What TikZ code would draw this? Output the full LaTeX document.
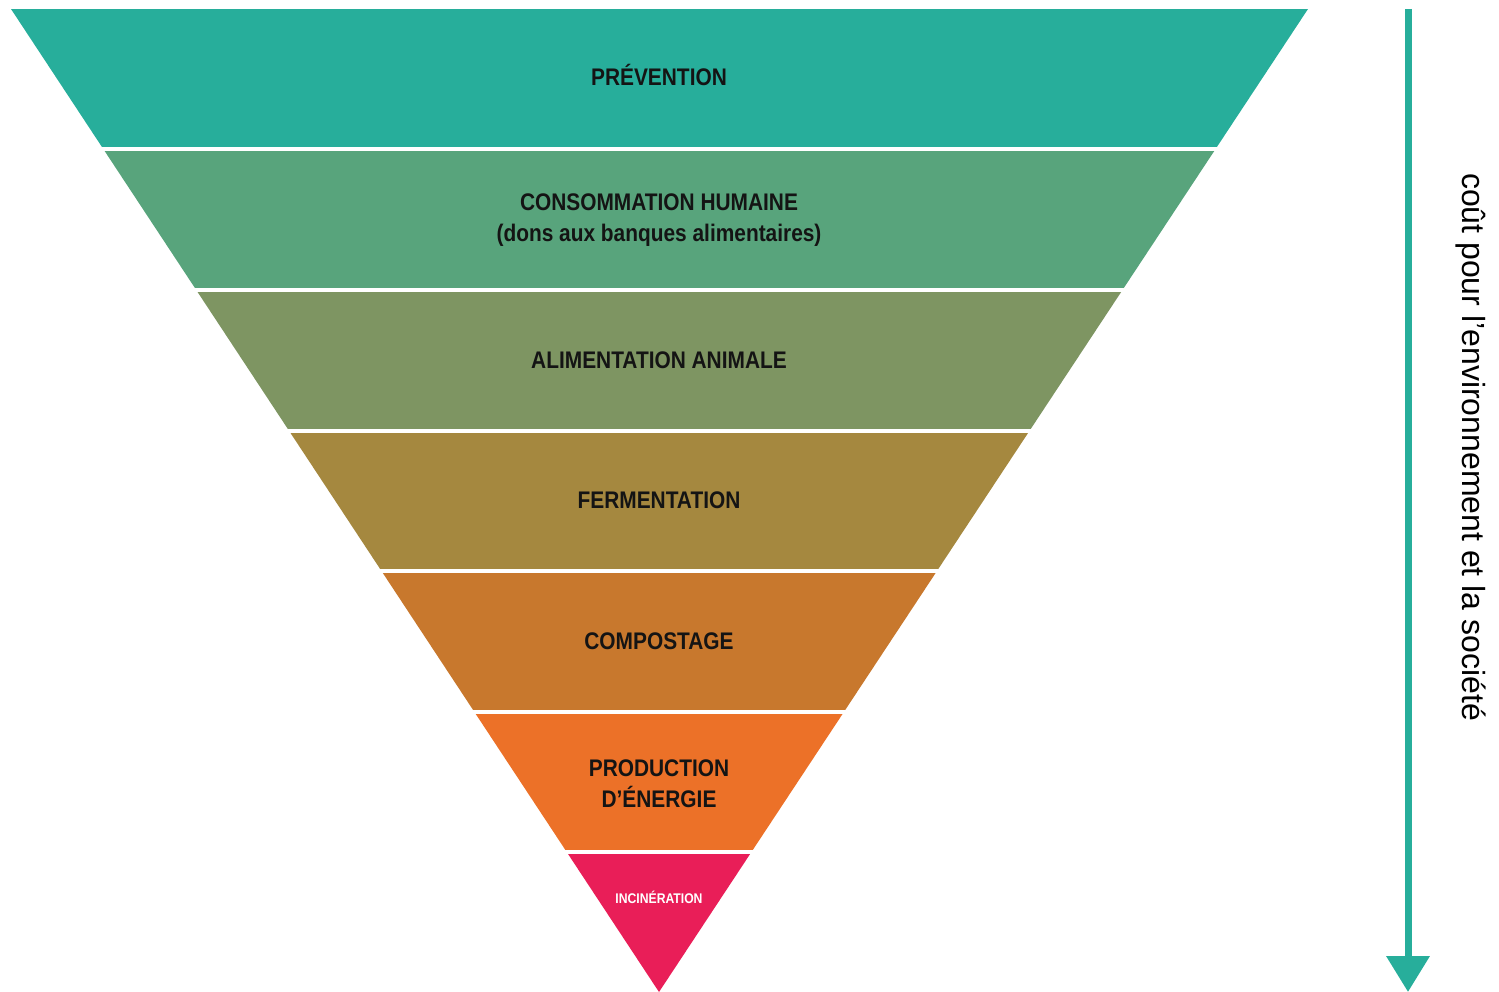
\documentclass[tikz,border=0pt]{standalone}
\usepackage{fontspec}
\setmainfont{Liberation Sans}
\newfontfamily\narrowfont[FakeStretch=0.87]{Liberation Sans}
\usetikzlibrary{arrows.meta}

\definecolor{prevcol}{HTML}{27AE9B}
\definecolor{conscol}{HTML}{58A47C}
\definecolor{alimcol}{HTML}{7E9562}
\definecolor{fermcol}{HTML}{A5883F}
\definecolor{compcol}{HTML}{C8782D}
\definecolor{enercol}{HTML}{EC7128}
\definecolor{incicol}{HTML}{E91E58}
\definecolor{ink}{HTML}{141414}

\begin{document}
\begin{tikzpicture}[x=1pt, y=-1pt,
    tier/.style={align=center, text=ink,
      font=\narrowfont\bfseries\fontsize{24}{31}\selectfont}]
  \useasboundingbox (0,0) rectangle (1499,992);

  \begin{scope}
    \clip (11,9) -- (1308,9) -- (659,992) -- cycle;
    \fill[prevcol] (0,9) rectangle (1499,147);
    \fill[conscol] (0,151) rectangle (1499,288);
    \fill[alimcol] (0,292) rectangle (1499,429);
    \fill[fermcol] (0,433) rectangle (1499,569);
    \fill[compcol] (0,573) rectangle (1499,710);
    \fill[enercol] (0,714) rectangle (1499,850);
    \fill[incicol] (0,854) rectangle (1499,992);
  \end{scope}

  \node[tier] (prevention) at (659,75) {PRÉVENTION};
  \node[tier] (consommation) at (659,220) {CONSOMMATION HUMAINE\\(dons aux banques alimentaires)};
  \node[tier] (alimentation) at (659,360) {ALIMENTATION ANIMALE};
  \node[tier] (fermentation) at (659,500) {FERMENTATION};
  \node[tier] (compostage) at (659,641) {COMPOSTAGE};
  \node[tier] (energie) at (659,784) {PRODUCTION\\D’ÉNERGIE};
  \node[tier, text=white, font=\narrowfont\bfseries\fontsize{14}{17}\selectfont]
    (incineration) at (659,897) {INCINÉRATION};

  \coordinate (haut) at (1408,9);
  \coordinate (bas) at (1408,992);
  \draw[prevcol, line width=7pt, -{Triangle[width=42pt, length=36pt]}] (haut) -- (bas);

  \node[rotate=-90, font=\fontsize{32}{38}\selectfont] (cout) at (1471,447)
    {coût pour l’environnement et la société};
\end{tikzpicture}
\end{document}
